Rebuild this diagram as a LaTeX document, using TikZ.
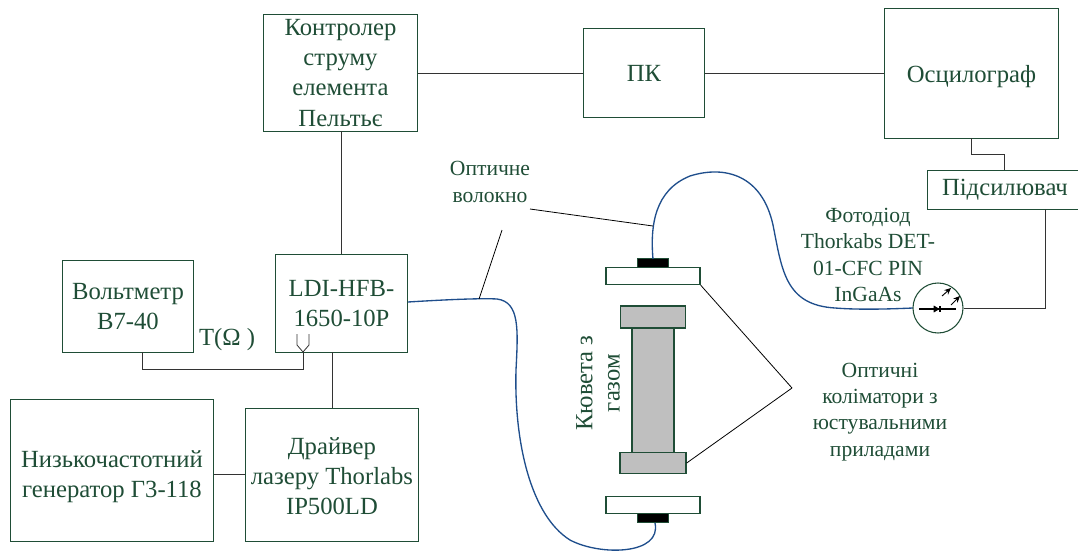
\documentclass[tikz,border=0pt]{standalone}
\usepackage{fontspec}
\setmainfont{Liberation Serif}
\definecolor{gr}{HTML}{1F4D36}
\definecolor{txt}{HTML}{1F4D36}
\definecolor{fib}{HTML}{1F4E8C}
\definecolor{ln}{HTML}{333333}
\definecolor{cell}{HTML}{BFBFBF}
\usetikzlibrary{arrows.meta}
\tikzset{
  x=0.75pt,y=-0.75pt,
  boxn/.style={draw=gr,line width=0.7pt,inner sep=0pt,align=center,text=txt,font=\fontsize{18.5}{22.6}\selectfont},
  lab/.style={text=txt,align=center,inner sep=0pt,font=\fontsize{16.2}{19.7}\selectfont},
  wire/.style={draw=ln,line width=0.6pt},
  thin wire/.style={draw=black,line width=0.6pt},
  fibre/.style={draw=fib,line width=1pt},
  plate/.style={draw=gr,line width=1pt,fill=white,inner sep=0pt},
  graybox/.style={draw=gr,line width=1pt,fill=cell,inner sep=0pt},
  blk/.style={draw=gr,line width=0.8pt,fill=black,inner sep=0pt},
}
\newcommand{\bx}[7][boxn]{\node[#1,minimum width=#4*0.75pt,minimum height=#5*0.75pt,anchor=north west] (#2) at (#3) {#6#7};}
\begin{document}
\begin{tikzpicture}
\useasboundingbox (0,0) rectangle (1078,554);
\coordinate (o1) at (971,138);
\coordinate (o2) at (971,154);
\coordinate (o3) at (1004,154);
\coordinate (o4) at (1004,170);
\coordinate (a1) at (1045,209);
\coordinate (a2) at (1045,308);
\coordinate (tj) at (303,352);
\coordinate (t1) at (303,369);
\coordinate (t2) at (142,369);
\coordinate (t3) at (142,352);
\coordinate (d1) at (332,352);
\coordinate (d2) at (332,408);
\coordinate (p1) at (341,131);
\coordinate (p2) at (341,254);
% boxes
\bx{ctrl}{263,14}{154}{117}{}{Контролер\\струму\\елемента\\Пельтьє}
\bx{pc}{583,28}{121}{89}{}{ПК}
\bx{osc}{884,8}{174}{130}{\rule{0pt}{17pt}}{Осцилограф}
\bx{amp}{927,170}{155}{39}{}{Підсилювач}
\bx{ldi}{275,254}{132}{98}{}{LDI-HFB-\\1650-10P}
\bx{volt}{62,260}{131}{92}{}{Вольтметр\\В7-40}
\bx{gen}{10,399}{203}{142}{\rule{0pt}{22pt}}{Низькочастотний\\генератор Г3-118}
\bx{drv}{245,408}{173}{133}{\rule{0pt}{15pt}}{Драйвер\\лазеру Thorlabs\\IP500LD}
% connectors
\draw[wire] (ctrl.east|-pc.west) -- (pc.west);
\draw[wire] (pc.east) -- (osc.west|-pc.east);
\draw[wire] (o1) -- (o2) -- (o3) -- (o4);
\draw[wire] (p1) -- (p2);
\draw[wire] (d1) -- (d2);
\draw[wire] (gen.east|-0,474) -- (drv.west|-0,474);
\draw[wire] (t3) -- (t2) -- (t1) -- (tj);
\draw[draw=ln,line width=0.6pt] (297,334) -- (297,345) -- (303,352) -- (309,345) -- (309,334);
\node[lab,font=\fontsize{18.5}{22}\selectfont] (tlab) at (227,340) {T(Ω )};
% cell
\node[plate,minimum width=94*0.75pt,minimum height=17*0.75pt] (top) at (653,276) {};
\node[blk,minimum width=31*0.75pt,minimum height=9*0.75pt] (topb) at (653,263) {};
\node[graybox,minimum width=42*0.75pt,minimum height=130*0.75pt] (body) at (653,389) {};
\node[graybox,minimum width=65*0.75pt,minimum height=22*0.75pt] (cap1) at (653,317) {};
\node[graybox,minimum width=66*0.75pt,minimum height=21*0.75pt] (cap2) at (653,463) {};
\node[plate,minimum width=94*0.75pt,minimum height=17*0.75pt] (bot) at (653,505) {};
\node[blk,minimum width=31*0.75pt,minimum height=9*0.75pt] (botb) at (653,518) {};
\node[lab,rotate=90,font=\fontsize{18.5}{20.5}\selectfont] (kuv) at (598,383) {Кювета з\\газом};
% fibres
\draw[fibre] (ldi.east|-0,302) .. controls (440,300) and (480,298) .. (497,299)
  .. controls (520,302) and (518,330) .. (516,370)
  .. controls (514,440) and (530,515) .. (570,540)
  .. controls (600,556) and (662,555) .. (655,523);
\draw[fibre] (653,259) .. controls (650,225) and (655,190) .. (690,176)
  .. controls (725,165) and (762,175) .. (773,225)
  .. controls (782,270) and (785,305) .. (835,308)
  .. controls (860,310) and (890,309) .. (913,308);
% detector
\node[draw=gr,line width=0.8pt,circle,minimum size=50*0.75pt,inner sep=0pt,fill=white] (det) at (938,308) {};
\coordinate (dl) at (919,309);
\coordinate (dr) at (956,309);
\draw[line width=0.8pt,black] (dl) -- (dr);
\draw[fill=black,black] (934,306) -- (934,312) -- (939,309) -- cycle;
\draw[black,line width=0.8pt] (940,306) -- (940,312);
\draw[black,line width=0.7pt,-{Stealth[length=5pt,width=4.5pt]}] (942,296) -- (951,288);
\draw[black,line width=0.7pt,-{Stealth[length=5pt,width=4.5pt]}] (951,305) -- (960,296);
\draw[wire] (det.east) -- (a2) -- (a1);
% labels and leaders
\node[lab] (lfib) at (490,182) {Оптичне\\волокно};
\node[lab] (ldet) at (868,255) {Фотодіод\\Thorkabs DET-\\01-CFC PIN\\InGaAs};
\node[lab] (lcol) at (880,412) {Оптичні\\коліматори з\\юстувальними\\приладами};
\coordinate (f1) at (530,209);
\coordinate (f2) at (653,226);
\coordinate (f3) at (502,230);
\coordinate (f4) at (479,299);
\coordinate (c0) at (792,388);
\draw[thin wire] (f1) -- (f2);
\draw[thin wire] (f3) -- (f4);
\draw[thin wire] (top.south east) -- (c0);
\draw[thin wire] (cap2.east) -- (c0);
\end{tikzpicture}
\end{document}
